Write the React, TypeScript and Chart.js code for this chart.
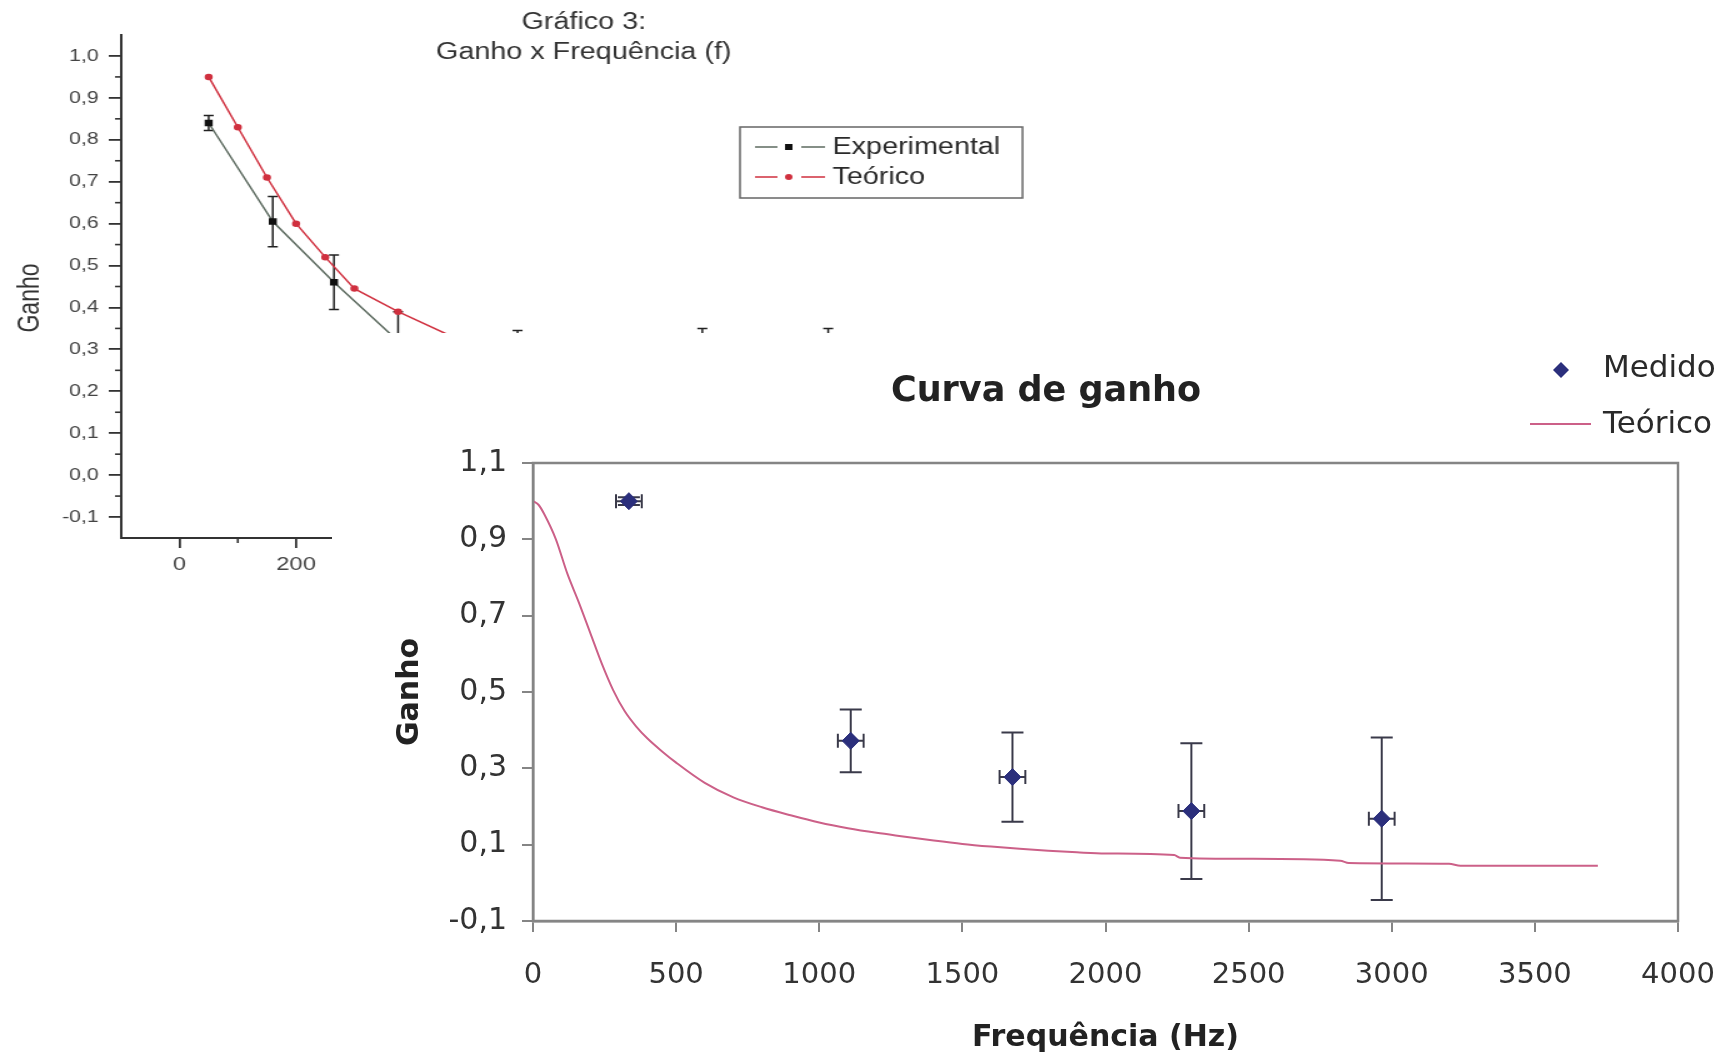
import React, { useEffect, useRef } from "react";
import { Chart, registerables } from "chart.js";

Chart.register(...registerables);

// ---------------- Background chart: "Gráfico 3" ----------------
const bgTitle = ["Gráfico 3:", "Ganho x Frequência (f)"];
const bgYTitle = "Ganho";
const bgYTicks = [-0.1, 0.0, 0.1, 0.2, 0.3, 0.4, 0.5, 0.6, 0.7, 0.8, 0.9, 1.0];
const bgYTickLabels = ["-0,1", "0,0", "0,1", "0,2", "0,3", "0,4", "0,5", "0,6", "0,7", "0,8", "0,9", "1,0"];
const bgYMinor = [-0.05, 0.05, 0.15, 0.25, 0.35, 0.45, 0.55, 0.65, 0.75, 0.85, 0.95];
const bgXTicks = [0, 200, 400, 600, 800, 1000, 1200, 1400];
const bgXTickLabels = ["0", "200", "400", "600", "800", "1000", "1200", "1400"];
const bgXMinor = [100, 300, 500, 700, 900, 1100, 1300];
const bgLegend = ["Experimental", "Teórico"];
const expFreq = [50, 160, 265, 375, 580, 897, 1113];
const expGain = [0.84, 0.605, 0.46, 0.32, 0.3, 0.28, 0.27];
const expErr = [0.018, 0.06, 0.065, 0.07, 0.045, 0.07, 0.08];
const teoFreq = [50, 100, 150, 200, 250, 300, 375, 500, 600, 900, 1110];
const teoGain = [0.95, 0.83, 0.71, 0.6, 0.52, 0.445, 0.39, 0.31, 0.28, 0.22, 0.19];

// ---------------- Main chart: "Curva de ganho" ----------------
const mainTitle = "Curva de ganho";
const mainXTitle = "Frequência (Hz)";
const mainYTitle = "Ganho";
const mainLegend = ["Medido", "Teórico"];
const mainXTicks = [0, 500, 1000, 1500, 2000, 2500, 3000, 3500, 4000];
const mainXTickLabels = ["0", "500", "1000", "1500", "2000", "2500", "3000", "3500", "4000"];
const mainYTicks = [-0.1, 0.1, 0.3, 0.5, 0.7, 0.9, 1.1];
const mainYTickLabels = ["-0,1", "0,1", "0,3", "0,5", "0,7", "0,9", "1,1"];
const medidoFreq = [335, 1110, 1675, 2300, 2965];
const medidoGain = [1.0, 0.372, 0.277, 0.188, 0.168];
const medidoGainErr = [0.01, 0.082, 0.117, 0.178, 0.213];
const medidoFreqErr = [45, 45, 45, 45, 45];
const teoricoFreq = [0, 20, 40, 80, 120, 160, 200, 240, 280, 320, 360, 400, 450, 500, 600, 700, 800, 900, 1000, 1100, 1200, 1300, 1400, 1500, 1600, 1700, 1800, 1900, 2000, 2240, 2260, 2500, 2820, 2850, 3200, 3240, 3720];
const teoricoGain = [1.0, 0.99, 0.965, 0.9, 0.81, 0.735, 0.655, 0.575, 0.505, 0.45, 0.41, 0.378, 0.345, 0.315, 0.262, 0.224, 0.198, 0.177, 0.158, 0.143, 0.131, 0.121, 0.111, 0.102, 0.095, 0.089, 0.084, 0.08, 0.077, 0.073, 0.066, 0.063, 0.058, 0.052, 0.05, 0.045, 0.045];

const BG_FONT = "'Liberation Sans', Arial, sans-serif";
const MAIN_FONT = "'DejaVu Sans', Verdana, sans-serif";
const EXP_LINE = "#5d6b60";
const TEO_RED = "#d0303f";
const MED_COLOR = "#2b2f7c";
const TEO_PINK = "#cc6088";
const FRAME = "#858585";

const bgPlugin = {
  id: "bgDecor",
  beforeDatasetsDraw(chart: any) {
    const { ctx, chartArea } = chart;
    const x = chart.scales.x;
    const y = chart.scales.y;
    ctx.save();
    ctx.strokeStyle = "#333";
    ctx.lineWidth = 1.6;
    bgYMinor.forEach((v) => {
      const py = y.getPixelForValue(v);
      ctx.beginPath();
      ctx.moveTo(chartArea.left - 5, py);
      ctx.lineTo(chartArea.left, py);
      ctx.stroke();
    });
    bgXMinor.forEach((v) => {
      const px = x.getPixelForValue(v);
      ctx.beginPath();
      ctx.moveTo(px, chartArea.bottom);
      ctx.lineTo(px, chartArea.bottom + 5);
      ctx.stroke();
    });
    ctx.strokeStyle = "#222";
    ctx.lineWidth = 1.5;
    expFreq.forEach((f, i) => {
      const px = x.getPixelForValue(f);
      const top = y.getPixelForValue(expGain[i] + expErr[i]);
      const bot = y.getPixelForValue(expGain[i] - expErr[i]);
      ctx.beginPath();
      ctx.moveTo(px, top);
      ctx.lineTo(px, bot);
      ctx.moveTo(px - 4, top);
      ctx.lineTo(px + 4, top);
      ctx.moveTo(px - 4, bot);
      ctx.lineTo(px + 4, bot);
      ctx.stroke();
    });
    ctx.restore();
  },
  afterDraw(chart: any) {
    const { ctx } = chart;
    ctx.save();
    ctx.fillStyle = "#333";
    ctx.font = `23px ${BG_FONT}`;
    ctx.textAlign = "center";
    ctx.textBaseline = "middle";
    ctx.fillText(bgTitle[0], 467, 23);
    ctx.fillText(bgTitle[1], 467, 53);
    // y title
    ctx.save();
    ctx.translate(25, 298);
    ctx.rotate(-Math.PI / 2);
    ctx.fillText(bgYTitle, 0, 0);
    ctx.restore();
    // legend box
    ctx.strokeStyle = "#666";
    ctx.lineWidth = 1.5;
    ctx.strokeRect(592, 127, 226, 71);
    const rows = [147, 177];
    const colors = [EXP_LINE, TEO_RED];
    rows.forEach((ry, i) => {
      ctx.strokeStyle = colors[i];
      ctx.lineWidth = 1.3;
      ctx.beginPath();
      ctx.moveTo(604, ry);
      ctx.lineTo(622, ry);
      ctx.moveTo(641, ry);
      ctx.lineTo(660, ry);
      ctx.stroke();
      if (i === 0) {
        ctx.fillStyle = "#111";
        ctx.fillRect(628, ry - 3, 6, 6);
      } else {
        ctx.fillStyle = TEO_RED;
        ctx.beginPath();
        ctx.arc(631, ry, 3, 0, Math.PI * 2);
        ctx.fill();
      }
      ctx.fillStyle = "#2a2a2a";
      ctx.textAlign = "left";
      ctx.fillText(bgLegend[i], 666, ry + 1);
    });
    ctx.restore();
  },
};

const mainPlugin = {
  id: "mainDecor",
  beforeDatasetsDraw(chart: any) {
    const { ctx } = chart;
    const x = chart.scales.x;
    const y = chart.scales.y;
    ctx.save();
    ctx.strokeStyle = "#3a3a4a";
    ctx.lineWidth = 2;
    medidoFreq.forEach((f, i) => {
      const px = x.getPixelForValue(f);
      const py = y.getPixelForValue(medidoGain[i]);
      const top = y.getPixelForValue(medidoGain[i] + medidoGainErr[i]);
      const bot = y.getPixelForValue(medidoGain[i] - medidoGainErr[i]);
      const lft = x.getPixelForValue(f - medidoFreqErr[i]);
      const rgt = x.getPixelForValue(f + medidoFreqErr[i]);
      ctx.beginPath();
      ctx.moveTo(px, top);
      ctx.lineTo(px, bot);
      ctx.moveTo(px - 11, top);
      ctx.lineTo(px + 11, top);
      ctx.moveTo(px - 11, bot);
      ctx.lineTo(px + 11, bot);
      ctx.moveTo(lft, py);
      ctx.lineTo(rgt, py);
      ctx.moveTo(lft, py - 7);
      ctx.lineTo(lft, py + 7);
      ctx.moveTo(rgt, py - 7);
      ctx.lineTo(rgt, py + 7);
      ctx.stroke();
    });
    ctx.restore();
  },
  afterDraw(chart: any) {
    const { ctx, chartArea } = chart;
    ctx.save();
    ctx.strokeStyle = FRAME;
    ctx.lineWidth = 2.5;
    ctx.strokeRect(chartArea.left, chartArea.top, chartArea.right - chartArea.left, chartArea.bottom - chartArea.top);
    ctx.fillStyle = "#222";
    ctx.textBaseline = "middle";
    ctx.textAlign = "center";
    ctx.font = `bold 35px ${MAIN_FONT}`;
    ctx.fillText(mainTitle, 714, 59);
    // legend
    ctx.fillStyle = MED_COLOR;
    ctx.beginPath();
    ctx.moveTo(1229, 29);
    ctx.lineTo(1237, 37);
    ctx.lineTo(1229, 45);
    ctx.lineTo(1221, 37);
    ctx.closePath();
    ctx.fill();
    ctx.strokeStyle = TEO_PINK;
    ctx.lineWidth = 2;
    ctx.beginPath();
    ctx.moveTo(1198, 91);
    ctx.lineTo(1259, 91);
    ctx.stroke();
    ctx.fillStyle = "#2a2a2a";
    ctx.textAlign = "left";
    ctx.font = `31px ${MAIN_FONT}`;
    ctx.fillText(mainLegend[0], 1271, 36);
    ctx.fillText(mainLegend[1], 1271, 92);
    ctx.restore();
  },
};

export default function App() {
  const bgRef = useRef<HTMLCanvasElement>(null);
  const mainRef = useRef<HTMLCanvasElement>(null);

  useEffect(() => {
    const bg = new Chart(bgRef.current as HTMLCanvasElement, {
      type: "scatter",
      data: {
        datasets: [
          {
            label: bgLegend[0],
            data: expFreq.map((f, i) => ({ x: f, y: expGain[i] })),
            showLine: true,
            borderColor: EXP_LINE,
            borderWidth: 1.5,
            backgroundColor: "#111",
            pointBorderColor: "#111",
            pointStyle: "rect",
            pointRadius: 3.5,
          },
          {
            label: bgLegend[1],
            data: teoFreq.map((f, i) => ({ x: f, y: teoGain[i] })),
            showLine: true,
            borderColor: TEO_RED,
            borderWidth: 1.5,
            backgroundColor: TEO_RED,
            pointBorderColor: TEO_RED,
            pointStyle: "circle",
            pointRadius: 2.5,
          },
        ],
      },
      options: {
        animation: false,
        responsive: false,
        devicePixelRatio: 1,
        layout: { autoPadding: false, padding: { left: 0, top: 35, right: 57, bottom: 0 } },
        plugins: { legend: { display: false }, title: { display: false }, tooltip: { enabled: false } },
        scales: {
          x: {
            type: "linear",
            min: -100,
            max: 1500,
            afterFit: (s: any) => { s.height = 82; s.paddingLeft = 0; s.paddingRight = 0; },
            afterBuildTicks: (s: any) => { s.ticks = bgXTicks.map((v) => ({ value: v })); },
            ticks: {
              autoSkip: false,
              maxRotation: 0,
              padding: 5,
              color: "#444",
              font: { family: BG_FONT, size: 19 },
              callback: (_v: any, i: number) => bgXTickLabels[i],
            },
            grid: { drawOnChartArea: false, drawTicks: true, tickLength: 10, color: "#333", lineWidth: 1.8 },
            border: { display: true, color: "#333", width: 2 },
          },
          y: {
            type: "linear",
            min: -0.15,
            max: 1.05,
            afterFit: (s: any) => { s.width = 97; s.paddingTop = 0; s.paddingBottom = 0; },
            afterBuildTicks: (s: any) => { s.ticks = bgYTicks.map((v) => ({ value: v })); },
            ticks: {
              autoSkip: false,
              padding: 8,
              color: "#444",
              font: { family: BG_FONT, size: 17 },
              callback: (_v: any, i: number) => bgYTickLabels[i],
            },
            grid: { drawOnChartArea: false, drawTicks: true, tickLength: 10, color: "#333", lineWidth: 1.8 },
            border: { display: true, color: "#333", width: 2 },
          },
        },
      },
      plugins: [bgPlugin],
    } as any);

    const main = new Chart(mainRef.current as HTMLCanvasElement, {
      type: "scatter",
      data: {
        datasets: [
          {
            label: mainLegend[0],
            data: medidoFreq.map((f, i) => ({ x: f, y: medidoGain[i] })),
            showLine: false,
            backgroundColor: MED_COLOR,
            borderColor: MED_COLOR,
            pointStyle: "rectRot",
            pointRadius: 8.5,
          },
          {
            label: mainLegend[1],
            data: teoricoFreq.map((f, i) => ({ x: f, y: teoricoGain[i] })),
            showLine: true,
            borderColor: TEO_PINK,
            borderWidth: 2,
            pointRadius: 0,
            cubicInterpolationMode: "monotone",
          },
        ],
      },
      options: {
        animation: false,
        responsive: false,
        devicePixelRatio: 1,
        layout: { autoPadding: false, padding: { left: 0, top: 130, right: 52, bottom: 0 } },
        plugins: { legend: { display: false }, title: { display: false }, tooltip: { enabled: false } },
        scales: {
          x: {
            type: "linear",
            min: 0,
            max: 4000,
            afterFit: (s: any) => { s.height = 137; s.paddingLeft = 0; s.paddingRight = 0; },
            afterBuildTicks: (s: any) => { s.ticks = mainXTicks.map((v) => ({ value: v })); },
            ticks: {
              autoSkip: false,
              maxRotation: 0,
              padding: 26,
              color: "#333",
              font: { family: MAIN_FONT, size: 29 },
              callback: (_v: any, i: number) => mainXTickLabels[i],
            },
            title: {
              display: true,
              text: mainXTitle,
              color: "#222",
              font: { family: MAIN_FONT, size: 30, weight: "bold" },
              padding: { top: 0, bottom: 2 },
            },
            grid: { drawOnChartArea: false, drawTicks: true, tickLength: 11, color: FRAME, lineWidth: 2 },
            border: { display: true, color: FRAME, width: 2.5 },
          },
          y: {
            type: "linear",
            min: -0.1,
            max: 1.1,
            afterFit: (s: any) => { s.width = 201; s.paddingTop = 0; s.paddingBottom = 0; },
            afterBuildTicks: (s: any) => { s.ticks = mainYTicks.map((v) => ({ value: v })); },
            ticks: {
              autoSkip: false,
              padding: 15,
              color: "#333",
              font: { family: MAIN_FONT, size: 30 },
              callback: (_v: any, i: number) => mainYTickLabels[i],
            },
            title: {
              display: true,
              text: mainYTitle,
              color: "#222",
              font: { family: MAIN_FONT, size: 30, weight: "bold" },
              padding: { top: 60, bottom: 0 },
            },
            grid: { drawOnChartArea: false, drawTicks: true, tickLength: 11, color: FRAME, lineWidth: 2 },
            border: { display: true, color: FRAME, width: 2.5 },
          },
        },
      },
      plugins: [mainPlugin],
    } as any);

    return () => {
      bg.destroy();
      main.destroy();
    };
  }, []);

  return (
    <div style={{ position: "fixed", left: 0, top: 0, width: 1730, height: 1058, background: "#fff", overflow: "hidden" }}>
      <div style={{ position: "absolute", left: 0, top: 0, width: 900, height: 620, transform: "scaleX(1.25)", transformOrigin: "0 0" }}>
        <canvas ref={bgRef} width={900} height={620} style={{ width: 900, height: 620, display: "block" }} />
      </div>
      <canvas
        ref={mainRef}
        width={1398}
        height={725}
        style={{ position: "absolute", left: 332, top: 333, width: 1398, height: 725, background: "#fff", display: "block" }}
      />
    </div>
  );
}
